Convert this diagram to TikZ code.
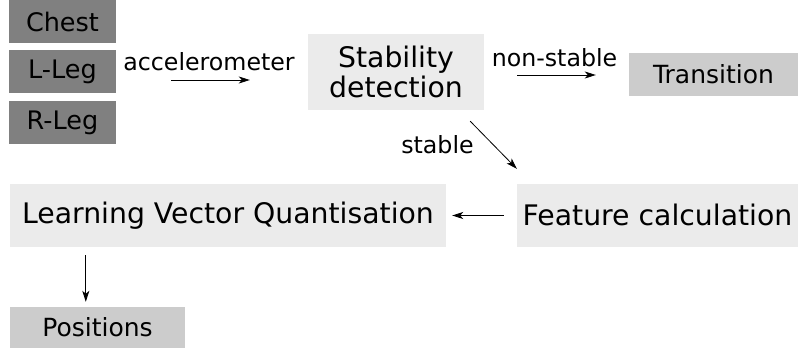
\documentclass[tikz,border=0pt]{standalone}
\usepackage{fontspec}
\setmainfont{DejaVu Sans}
\usetikzlibrary{arrows.meta}
\definecolor{sensorgray}{HTML}{808080}
\definecolor{stepgray}{HTML}{EBEBEB}
\definecolor{outgray}{HTML}{CCCCCC}
\begin{document}
\begin{tikzpicture}[x=1pt,y=-1pt,
  sensorbox/.style={fill=sensorgray,inner sep=0pt,minimum width=107pt,minimum height=43pt,font=\fontsize{25.5}{28}\selectfont},
  stepbox/.style={fill=stepgray,inner sep=0pt,font=\fontsize{28.3}{30}\selectfont},
  outbox/.style={fill=outgray,inner sep=0pt,font=\fontsize{25}{28}\selectfont},
  lbl/.style={anchor=base,inner sep=0pt,font=\fontsize{23.7}{26}\selectfont},
  arr/.style={draw=black,line width=0.8pt,-{Stealth[length=11pt,width=7pt,inset=3pt]}}]
\useasboundingbox (0,0) rectangle (798,354);
% sensor placements
\node[sensorbox] (chest) at (62.5,21.5) {Chest};
\node[sensorbox] (lleg) at (62.5,71.5) {L-Leg};
\node[sensorbox] (rleg) at (62.5,122.5) {R-Leg};
% processing steps
\node[stepbox,minimum width=176pt,minimum height=76pt,align=center] (stab) at (396,72) {Stability\\detection};
\node[outbox,minimum width=169pt,minimum height=43pt] (trans) at (713.5,74.5) {Transition};
\node[stepbox,minimum width=281pt,minimum height=63pt,text depth=0.24em] (feat) at (657.5,215.5) {Feature calculation};
\node[stepbox,minimum width=436pt,minimum height=63pt] (lvq) at (228,215.5) {Learning Vector Quantisation};
\node[outbox,minimum width=175pt,minimum height=41pt] (pos) at (97.5,327.5) {Positions};
% edge labels
\node[lbl] (lacc) at (209,70) {accelerometer};
\node[lbl] (lnon) at (554.5,66.5) {non-stable};
\node[lbl] (lsta) at (437.5,153) {stable};
% connectors
\draw[arr,shorten <=55pt,shorten >=58pt] ([yshift=-8.5pt]lleg.east) -- ([yshift=-8pt]stab.west);
\draw[arr,shorten <=33pt,shorten >=33pt] ([yshift=-3pt]stab.east) -- ([yshift=-0.5pt]trans.west);
\draw[arr] ([shift={(-14,11)}]stab.south east) -- ([shift={(0,-15)}]feat.north west);
\draw[arr,shorten <=13pt,shorten >=6pt] (feat.west) -- (lvq.east);
\draw[arr] ([shift={(76,8)}]lvq.south west) -- ([shift={(76,-5)}]pos.north west);
\end{tikzpicture}
\end{document}
